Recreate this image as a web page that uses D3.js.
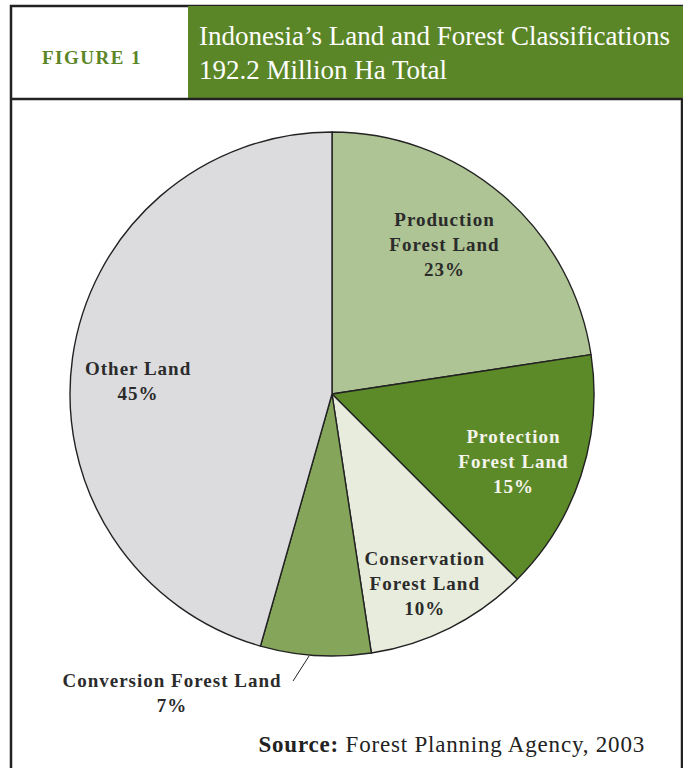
<!DOCTYPE html>
<html>
<head>
<meta charset="utf-8">
<script src="https://cdn.jsdelivr.net/npm/d3@7"></script>
<style>
  body { margin: 0; background: #fff; }
  svg { display: block; }
  text { font-family: "Liberation Serif", "DejaVu Serif", serif; }
</style>
</head>
<body>
<svg width="683" height="768"></svg>
<script>
// data (shares in % of 192.2 million ha)
var categories = ["Production Forest Land", "Protection Forest Land", "Conservation Forest Land", "Conversion Forest Land", "Other Land"];
var shares = [22.6, 14.9, 10.1, 6.8, 45.6];
var pctLabels = ["23%", "15%", "10%", "7%", "45%"];
var labelLines = [["Production", "Forest Land"], ["Protection", "Forest Land"], ["Conservation", "Forest Land"], ["Conversion Forest Land"], ["Other Land"]];
var colors = ["#aec494", "#5d8a28", "#e7ecdc", "#84a55a", "#dcdcdf"];
var textColors = ["#2b2b2b", "#f4f4ec", "#2b2b2b", "#2b2b2b", "#2b2b2b"];

var svg = d3.select("svg");
var green = "#5b8627";

// frame + header
svg.append("rect")
  .attr("x", 11).attr("y", 6)
  .attr("width", 671).attr("height", 820)
  .attr("fill", "none").attr("stroke", "#222").attr("stroke-width", 2.5);

svg.append("rect")
  .attr("x", 188).attr("y", 6)
  .attr("width", 495).attr("height", 92)
  .attr("fill", green);

svg.append("line")
  .attr("x1", 11).attr("x2", 683)
  .attr("y1", 99).attr("y2", 99)
  .attr("stroke", "#222").attr("stroke-width", 2.5);

svg.append("text")
  .attr("x", 92).attr("y", 64)
  .attr("text-anchor", "middle")
  .attr("fill", green)
  .attr("font-weight", "bold")
  .style("font-size", "19px")
  .style("letter-spacing", "1.5px")
  .text("FIGURE 1");

svg.append("text")
  .attr("x", 199).attr("y", 45)
  .attr("fill", "#fff")
  .style("font-size", "27px")
  .text("Indonesia\u2019s Land and Forest Classifications");

svg.append("text")
  .attr("x", 199).attr("y", 79)
  .attr("fill", "#fff")
  .style("font-size", "27px")
  .text("192.2 Million Ha Total");

// pie
var cx = 332, cy = 394, radius = 262;
var g = svg.append("g").attr("transform", "translate(" + cx + "," + cy + ")");

var pie = d3.pie().sort(null).value(function(d) { return d; });
var arcs = pie(shares);
var arc = d3.arc().innerRadius(0).outerRadius(radius);

g.selectAll("path")
  .data(arcs)
  .enter()
  .append("path")
  .attr("d", arc)
  .attr("fill", function(d, i) { return colors[i]; })
  .attr("stroke", "#222")
  .attr("stroke-width", 1.4)
  .attr("stroke-linejoin", "round");

// label placement: distance from centre and angle nudge (degrees) per slice
var labelRadius = [182, 196, 217, 0, 194];
var labelNudge = [-2.5, 4, 1.5, 0, -6];
var lineH = 25;

arcs.forEach(function(d, i) {
  if (i === 3) return; // conversion label sits outside
  var a = (d.startAngle + d.endAngle) / 2 + labelNudge[i] * Math.PI / 180;
  var lx = Math.sin(a) * labelRadius[i];
  var ly = -Math.cos(a) * labelRadius[i];
  var lines = labelLines[i].concat([pctLabels[i]]);
  var t = g.append("text")
    .attr("text-anchor", "middle")
    .attr("fill", textColors[i])
    .attr("font-weight", "bold")
    .style("font-size", "19px")
    .style("letter-spacing", "1px");
  lines.forEach(function(s, k) {
    t.append("tspan")
      .attr("x", lx)
      .attr("y", ly + (k - (lines.length - 1) / 2) * lineH)
      .text(s);
  });
});

// conversion forest land: outside label with leader line
var conv = arcs[3];
var ca = (conv.startAngle + conv.endAngle) / 2 + 1.4 * Math.PI / 180;
var p0 = [Math.sin(ca) * (radius + 1), -Math.cos(ca) * (radius + 1)];
g.append("line")
  .attr("x1", p0[0]).attr("y1", p0[1])
  .attr("x2", p0[0] - 16).attr("y2", p0[1] + 25)
  .attr("stroke", "#222").attr("stroke-width", 1);

var ct = svg.append("text")
  .attr("text-anchor", "middle")
  .attr("fill", "#2b2b2b")
  .attr("font-weight", "bold")
  .style("font-size", "19px")
  .style("letter-spacing", "1px");
ct.append("tspan").attr("x", 172).attr("y", 687).text(labelLines[3][0]);
ct.append("tspan").attr("x", 172).attr("y", 712).text(pctLabels[3]);

// source
var src = svg.append("text")
  .attr("x", 645).attr("y", 752)
  .attr("text-anchor", "end")
  .attr("fill", "#222")
  .style("font-size", "23px")
  .style("letter-spacing", "0.8px");
src.append("tspan").attr("font-weight", "bold").text("Source: ");
src.append("tspan").text("Forest Planning Agency, 2003");
</script>
</body>
</html>
